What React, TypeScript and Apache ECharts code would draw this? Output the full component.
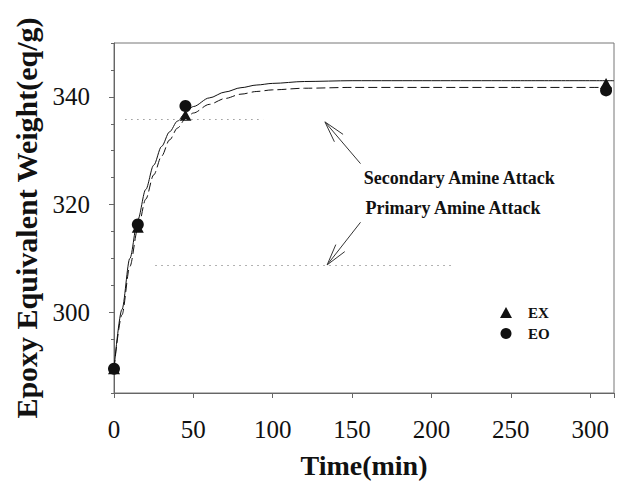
import React, { useEffect, useRef } from "react";
import * as echarts from "echarts";

// ---- data ----
const exTimes = [0, 15, 45, 310];
const exValues = [289.5, 315.8, 336.6, 342.5];
const eoTimes = [0, 15, 45, 310];
const eoValues = [289.5, 316.3, 338.3, 341.2];

const fitTimes = [0, 5, 10, 15, 20, 25, 30, 35, 40, 45, 50, 60, 70, 80, 90, 100, 120, 150, 200, 250, 315];
const solidFit = [289.5, 300.5, 310, 317.2, 322.8, 327.3, 330.8, 333.5, 335.5, 337, 338.2, 339.8, 340.9, 341.7, 342.2, 342.5, 342.85, 343, 343, 343, 343];
const dashedFit = [289.5, 299.5, 308.5, 315.5, 321, 325.5, 329, 332, 334.2, 335.9, 337, 338.6, 339.7, 340.5, 341, 341.3, 341.6, 341.75, 341.75, 341.75, 341.75];

const yTickLabels = [300, 320, 340];
const legendNames = ["EX", "EO"];

// annotations (data coordinates)
const secondaryLevel = 335.8;
const secondarySpan = [7, 94];
const primaryLevel = 308.8;
const primarySpan = [26, 215];
const secondaryArrow = { tail: [155.3, 327.6], tip: [132.9, 335.35] };
const primaryArrow = { tail: [155.3, 316.7], tip: [134.3, 308.8] };
const secondaryText = { text: "Secondary Amine Attack", at: [157.3, 324.9] };
const primaryText = { text: "Primary Amine Attack", at: [158.4, 319.3] };

const FONT = "'Liberation Serif', 'Times New Roman', Times, serif";
const INK = "#111";

export default function App() {
  const ref = useRef<HTMLDivElement>(null);

  useEffect(() => {
    const chart = echarts.init(ref.current!, null, { renderer: "svg" });
    const option: any = {
      animation: false,
      backgroundColor: "#fff",
      grid: {
        left: 114,
        right: 1,
        top: 43,
        bottom: 96,
        show: true,
        borderColor: "#777",
        borderWidth: 1,
      },
      legend: {
        orient: "vertical",
        left: 495,
        top: 300,
        itemWidth: 12,
        itemHeight: 11,
        itemGap: 6,
        data: [
          { name: legendNames[0], icon: "triangle" },
          { name: legendNames[1], icon: "circle" },
        ],
        textStyle: {
          fontFamily: FONT,
          fontWeight: "bold",
          fontSize: 15,
          color: INK,
          padding: [0, 0, 0, 11],
        },
      },
      xAxis: {
        type: "value",
        min: 0,
        max: 315,
        interval: 50,
        name: "Time(min)",
        nameLocation: "middle",
        nameGap: 58,
        nameTextStyle: { fontFamily: FONT, fontWeight: "bold", fontSize: 28, color: INK },
        axisLine: { lineStyle: { color: "#666", width: 1 } },
        axisTick: { length: 5, lineStyle: { color: "#666" } },
        axisLabel: {
          fontFamily: FONT,
          fontSize: 25,
          color: INK,
          margin: 24,
          formatter: (v: number) => (v > 300 ? "" : String(v)),
        },
        splitLine: { show: false },
      },
      yAxis: [
        {
          type: "value",
          min: 285,
          max: 350,
          interval: 5,
          name: "Epoxy Equivalent Weight(eq/g)",
          nameLocation: "middle",
          nameGap: 72,
          nameTextStyle: { fontFamily: FONT, fontWeight: "bold", fontSize: 30, color: INK },
          axisLine: { lineStyle: { color: "#666", width: 1 } },
          axisTick: { length: 3, lineStyle: { color: "#666" } },
          axisLabel: {
            fontFamily: FONT,
            fontSize: 25,
            color: INK,
            margin: 24,
            formatter: (v: number) => (yTickLabels.includes(v) ? String(v) : ""),
          },
          splitLine: { show: false },
        },
        {
          type: "value",
          min: 285,
          max: 350,
          position: "left",
          axisLine: { show: false },
          axisTick: { show: true, length: 5, customValues: yTickLabels, lineStyle: { color: "#666" } },
          axisLabel: { show: false },
          splitLine: { show: false },
        },
      ],
      series: [
        {
          type: "line",
          name: "fit-EX",
          data: fitTimes.map((t, i) => [t, solidFit[i]]),
          showSymbol: false,
          smooth: 0.3,
          smoothMonotone: "x",
          lineStyle: { color: INK, width: 1 },
          z: 2,
          silent: true,
        },
        {
          type: "line",
          name: "fit-EO",
          data: fitTimes.map((t, i) => [t, dashedFit[i]]),
          showSymbol: false,
          smooth: 0.3,
          smoothMonotone: "x",
          lineStyle: { color: INK, width: 1, type: [9, 4] },
          z: 2,
          silent: true,
          markLine: {
            silent: true,
            symbol: ["none", "none"],
            label: { show: false },
            lineStyle: { color: "#999", width: 1, type: [1.5, 4.5] },
            data: [
              [{ coord: [secondarySpan[0], secondaryLevel] }, { coord: [secondarySpan[1], secondaryLevel] }],
              [{ coord: [primarySpan[0], primaryLevel] }, { coord: [primarySpan[1], primaryLevel] }],
            ],
          },
        },
        {
          type: "scatter",
          name: "EX",
          data: exTimes.map((t, i) => [t, exValues[i]]),
          symbol: "triangle",
          symbolSize: [12, 11],
          itemStyle: { color: INK, opacity: 1 },
          z: 3,
        },
        {
          type: "scatter",
          name: "EO",
          data: eoTimes.map((t, i) => [t, eoValues[i]]),
          symbol: "circle",
          symbolSize: 12,
          itemStyle: { color: INK, opacity: 1 },
          z: 4,
        },
      ],
    };
    chart.setOption(option);

    const px = (p: number[]) => chart.convertToPixel({ gridIndex: 0 }, p) as number[];
    const arrow = (a: { tail: number[]; tip: number[] }) => {
      const [x1, y1] = px(a.tail);
      const [x2, y2] = px(a.tip);
      const ang = Math.atan2(y1 - y2, x1 - x2);
      const L = 22;
      const s = (15 * Math.PI) / 180;
      const style = { stroke: "#333", lineWidth: 1 };
      return [
        { type: "line", shape: { x1, y1, x2, y2 }, style, silent: true },
        {
          type: "line",
          shape: { x1: x2, y1: y2, x2: x2 + L * Math.cos(ang + s), y2: y2 + L * Math.sin(ang + s) },
          style,
          silent: true,
        },
        {
          type: "line",
          shape: { x1: x2, y1: y2, x2: x2 + L * Math.cos(ang - s), y2: y2 + L * Math.sin(ang - s) },
          style,
          silent: true,
        },
      ];
    };
    const label = (t: { text: string; at: number[] }) => {
      const [x, y] = px(t.at);
      return {
        type: "text",
        x,
        y,
        silent: true,
        style: {
          text: t.text,
          fontFamily: FONT,
          fontWeight: "bold",
          fontSize: 18,
          fill: INK,
          align: "left",
          verticalAlign: "middle",
        },
      };
    };
    chart.setOption({
      graphic: [
        ...arrow(secondaryArrow),
        ...arrow(primaryArrow),
        label(secondaryText),
        label(primaryText),
      ],
    });

    return () => chart.dispose();
  }, []);

  return (
    <div
      ref={ref}
      style={{ position: "absolute", left: 0, top: 0, width: 617, height: 489, background: "#fff" }}
    />
  );
}
